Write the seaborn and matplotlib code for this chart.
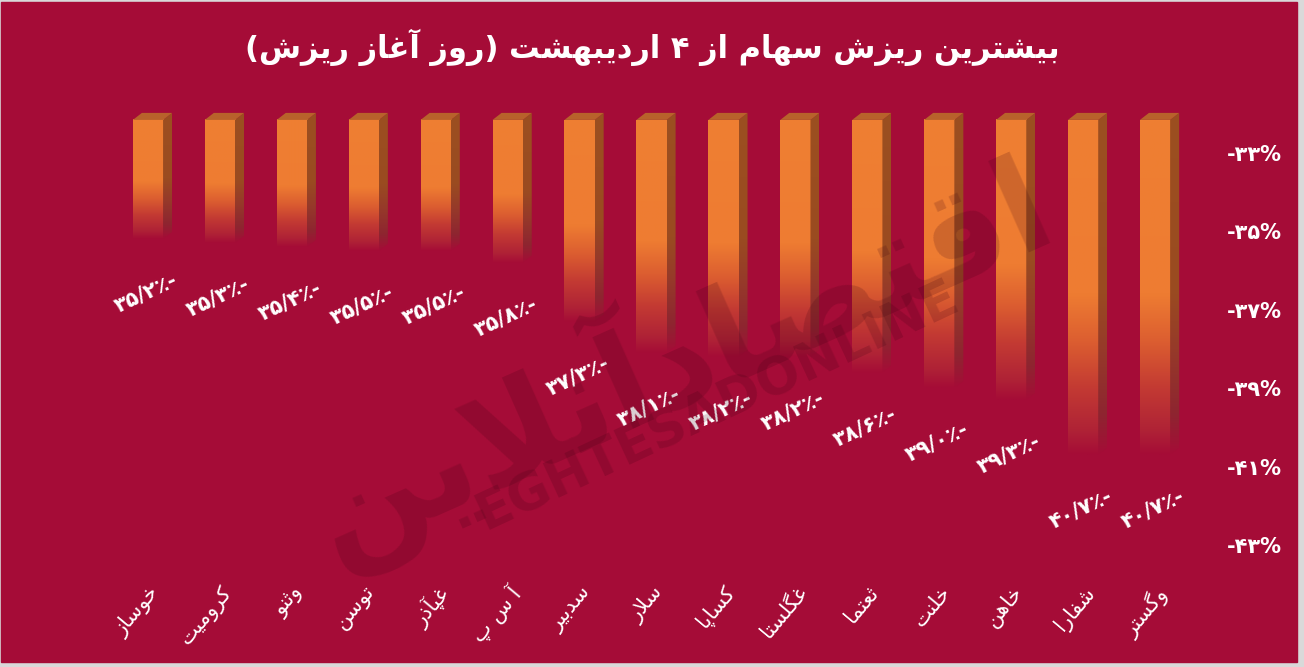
import numpy as np
import pandas as pd
import seaborn as sns
import matplotlib.pyplot as plt
from matplotlib.patches import Polygon, Rectangle
from matplotlib.colors import LinearSegmentedColormap

# data
stocks = ['خوساز', 'کرومیت', 'وثنو', 'توسن', 'غپآذر', 'آ س پ', 'سدبیر', 'سلار',
          'کساپا', 'غگلستا', 'ثعتما', 'خلنت', 'خاهن', 'شفارا', 'وگستر']
drops = [-35.2, -35.3, -35.4, -35.5, -35.5, -35.8, -37.3, -38.1,
         -38.2, -38.2, -38.6, -39.0, -39.3, -40.7, -40.7]
yticks = [-33, -35, -37, -39, -41, -43]
title = 'بیشترین ریزش سهام از ۴ اردیبهشت (روز آغاز ریزش)'
watermark = 'اقتصادآنلاین'

BG = '#A50C37'
ORANGE = '#EF7F32'

# simple arabic/persian shaping (matplotlib has no text shaping)
FORMS = {
    'ا': (0xFE8D, 0xFE8E, None, None), 'آ': (0xFE81, 0xFE82, None, None),
    'د': (0xFEA9, 0xFEAA, None, None), 'ذ': (0xFEAB, 0xFEAC, None, None),
    'ر': (0xFEAD, 0xFEAE, None, None), 'ز': (0xFEAF, 0xFEB0, None, None),
    'و': (0xFEED, 0xFEEE, None, None),
    'ب': (0xFE8F, 0xFE90, 0xFE91, 0xFE92), 'ت': (0xFE95, 0xFE96, 0xFE97, 0xFE98),
    'ث': (0xFE99, 0xFE9A, 0xFE9B, 0xFE9C), 'خ': (0xFEA5, 0xFEA6, 0xFEA7, 0xFEA8),
    'س': (0xFEB1, 0xFEB2, 0xFEB3, 0xFEB4), 'ش': (0xFEB5, 0xFEB6, 0xFEB7, 0xFEB8),
    'ص': (0xFEB9, 0xFEBA, 0xFEBB, 0xFEBC), 'ع': (0xFEC9, 0xFECA, 0xFECB, 0xFECC),
    'غ': (0xFECD, 0xFECE, 0xFECF, 0xFED0), 'ف': (0xFED1, 0xFED2, 0xFED3, 0xFED4),
    'ق': (0xFED5, 0xFED6, 0xFED7, 0xFED8), 'ل': (0xFEDD, 0xFEDE, 0xFEDF, 0xFEE0),
    'م': (0xFEE1, 0xFEE2, 0xFEE3, 0xFEE4), 'ن': (0xFEE5, 0xFEE6, 0xFEE7, 0xFEE8),
    'ه': (0xFEE9, 0xFEEA, 0xFEEB, 0xFEEC), 'پ': (0xFB56, 0xFB57, 0xFB58, 0xFB59),
    'ک': (0xFB8E, 0xFB8F, 0xFB90, 0xFB91), 'گ': (0xFB92, 0xFB93, 0xFB94, 0xFB95),
    'ی': (0xFBFC, 0xFBFD, 0xFBFE, 0xFBFF),
}
LAM_ALEF = {'ا': (0xFEFB, 0xFEFC), 'آ': (0xFEF5, 0xFEF6)}


def rtl(text):
    out = []
    i = 0
    while i < len(text):
        c = text[i]
        prev = text[i - 1] if i > 0 else ''
        nxt = text[i + 1] if i + 1 < len(text) else ''
        if c not in FORMS:
            out.append(c)
            i += 1
            continue
        jp = prev in FORMS and FORMS[prev][2] is not None
        if c == 'ل' and nxt in LAM_ALEF:
            out.append(chr(LAM_ALEF[nxt][1 if jp else 0]))
            i += 2
            continue
        jn = nxt in FORMS and FORMS[c][2] is not None
        f = FORMS[c]
        if jp and jn:
            out.append(chr(f[3]))
        elif jp:
            out.append(chr(f[1]))
        elif jn:
            out.append(chr(f[2]))
        else:
            out.append(chr(f[0]))
        i += 1
    s = ''.join(out[::-1])
    return s.translate(str.maketrans('()', ')('))


def fa(s):
    return s.translate(str.maketrans('0123456789', '۰۱۲۳۴۵۶۷۸۹'))


sns.set_theme(style='white')
plt.rcParams['font.family'] = ['DejaVu Sans']

fig = plt.figure(figsize=(13.04, 6.67), dpi=100, facecolor='#D9D9D9')
fig.patches.append(Rectangle((1 / 1304, 5 / 667), 1296 / 1304, 660 / 667,
                             transform=fig.transFigure, color=BG, zorder=-5))
ax = fig.add_axes([112 / 1304, 107 / 667, 1079 / 1304, 455 / 667])
ax.set_facecolor(BG)

df = pd.DataFrame({'stock': stocks, 'drop': drops})
sns.barplot(data=df, x='stock', y='drop', width=0.42, color=ORANGE, ax=ax)

YLIM = (-43.38, -31.78)
TOP = -32.16
ax.set_xlim(-0.5, len(stocks) - 0.5)
ax.set_ylim(*YLIM)

px_x = ax.bbox.width / len(stocks)
px_y = ax.bbox.height / (YLIM[1] - YLIM[0])
dx = 9 / px_x
dy = 7 / px_y

front_cmap = LinearSegmentedColormap.from_list('front', [
    (0, ORANGE), (0.52, '#EE7C32'), (0.66, '#DC5E30'), (0.8, '#C33A33'),
    (0.93, '#AF2236'), (1.0, BG)])
side_cmap = LinearSegmentedColormap.from_list('side', [
    (0, '#9C4F20'), (0.52, '#9A4B21'), (0.7, '#96392A'), (0.88, '#8E2530'),
    (1.0, BG)])
front_img = front_cmap(np.linspace(0, 1, 256))[:, None, :]
side_img = side_cmap(np.linspace(0, 1, 256))[:, None, :]

for p, v in zip(ax.patches, drops):
    x0 = p.get_x()
    w = p.get_width()
    x1 = x0 + w
    p.set_visible(False)
    ax.imshow(front_img, extent=(x0, x1, v, TOP), aspect='auto',
              origin='upper', interpolation='bilinear', zorder=2)
    side = Polygon([(x1, TOP), (x1 + dx, TOP + dy), (x1 + dx, v + dy), (x1, v)],
                   facecolor='none', edgecolor='none')
    ax.add_patch(side)
    im = ax.imshow(side_img, extent=(x1, x1 + dx, v, TOP + dy), aspect='auto',
                   origin='upper', interpolation='bilinear', zorder=2)
    im.set_clip_path(side)
    ax.add_patch(Polygon([(x0, TOP), (x1, TOP), (x1 + dx, TOP + dy), (x0 + dx, TOP + dy)],
                         facecolor='#B8622B', edgecolor='none', zorder=2))
    label = fa(f'{abs(v):.1f}').replace('.', '/') + '٪-'
    ax.annotate(label, xy=(x0 + w / 2, v), xytext=(-2, -54), textcoords='offset pixels',
                ha='center', va='center', rotation=25, color='white',
                fontsize=15, fontweight='bold', zorder=4)

ax.set_xlim(-0.5, len(stocks) - 0.5)
ax.set_ylim(*YLIM)

ax.yaxis.tick_right()
ax.set_yticks(yticks)
ax.set_yticklabels(['-' + fa(str(abs(t))) + '%' for t in yticks],
                   fontweight='bold', color='white', fontsize=15)
ax.set_xticks(range(len(stocks)))
ax.set_xticklabels([rtl(s) for s in stocks], rotation=50, ha='right',
                   rotation_mode='anchor', color='white', fontsize=15)
ax.tick_params(axis='y', length=0, pad=26)
ax.tick_params(axis='x', length=0, pad=16)
ax.set_xlabel('')
ax.set_ylabel('')
for s in ax.spines.values():
    s.set_visible(False)

# watermark
fig.text(0.52, 0.47, rtl(watermark), rotation=24, fontsize=95, fontweight='bold',
         color='#3A0010', alpha=0.18, ha='center', va='center', zorder=5)
fig.text(0.55, 0.39, 'EGHTESADONLINE', rotation=25, fontsize=37, fontweight='bold',
         color='#3A0010', alpha=0.18, ha='center', va='center', zorder=5)

fig.text(0.5, 1 - 47 / 667, rtl(title), ha='center', va='center',
         fontsize=22, fontweight='bold', color='white')

fig.savefig('out.png', dpi=100, facecolor=fig.get_facecolor())
